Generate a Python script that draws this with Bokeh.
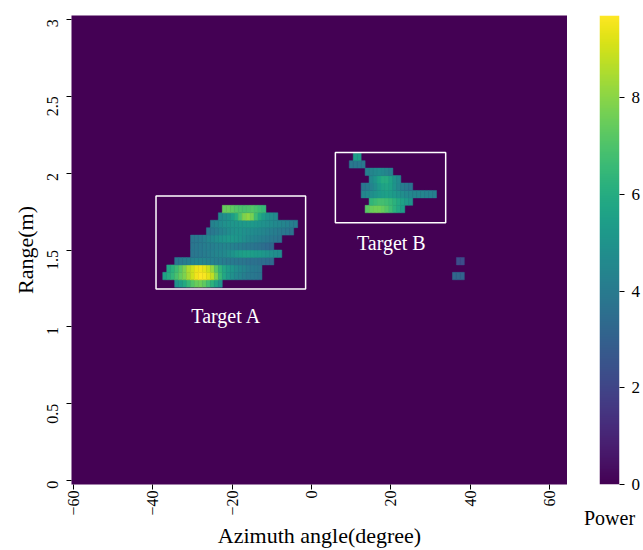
import math

import numpy as np
from bokeh.core.properties import value
from bokeh.embed import file_html
from bokeh.layouts import row
from bokeh.models import ColumnDataSource, FixedTicker, LinearColorMapper, Range1d
from bokeh.palettes import Viridis256
from bokeh.plotting import figure
from bokeh.resources import INLINE

# Range bins: 63 bins covering 0-3 m
RANGE_STEP = 3 / 62
N_RANGE_BINS = 63

azimuth_ticks = [-60, -40, -20, 0, 20, 40, 60]
range_ticks = [0, 0.5, 1, 1.5, 2, 2.5, 3]
range_tick_labels = ["0", "0.5", "1", "1.5", "2", "2.5", "3"]
power_ticks = [0, 2, 4, 6, 8]
power_max = 9.7

# Target A: range-bin index, first azimuth bin (deg), power along azimuth (1 deg bins)
target_a_bins = [26, 27, 28, 29, 30, 31, 32, 33, 34, 35, 36]
target_a_first_az = [-34, -37, -36, -34, -30, -30, -30, -26, -25, -23, -22]
target_a_power = [
    [5.0, 5.4, 5.9, 6.5, 7.1, 7.5, 7.6, 7.3, 6.8, 6.2, 5.6, 5.0],
    [5.6, 6.0, 6.4, 6.9, 7.4, 7.8, 8.4, 9.0, 9.5, 9.7, 9.6, 9.3, 8.8, 7.8, 6.6, 5.8,
     5.3, 4.9, 4.6, 4.4, 4.2, 4.0, 3.9, 3.8, 3.7],
    [5.8, 6.2, 6.7, 7.2, 7.8, 8.5, 9.0, 9.4, 9.5, 9.3, 8.9, 8.2, 7.2, 6.4, 5.8, 5.4,
     5.1, 4.8, 4.6, 4.4, 4.2, 4.0, 3.9, 3.8],
    [3.9, 4.0, 4.1, 4.2, 4.3, 4.4, 4.4, 4.4, 4.3, 4.3, 4.2, 4.2, 4.1, 4.0, 4.0, 3.9,
     3.8, 3.8, 3.7, 3.6, 3.6, 3.5, 3.5, 3.4, 3.4],
    [3.8, 3.9, 4.0, 4.1, 4.2, 4.3, 4.4, 4.5, 4.6, 4.8, 5.0, 5.2, 5.4, 5.5, 5.5, 5.4,
     5.3, 5.2, 5.1, 5.0, 4.9, 4.8, 4.7],
    [3.8, 3.9, 4.0, 4.1, 4.2, 4.2, 4.3, 4.3, 4.4, 4.4, 4.3, 4.2, 4.1, 4.0, 3.9, 3.8,
     3.7, 3.6, 3.5, 3.4, 3.3],
    [3.8, 3.9, 4.0, 4.2, 4.4, 4.6, 4.8, 5.0, 5.1, 5.2, 5.2, 5.1, 5.0, 4.8, 4.6, 4.4,
     4.3, 4.2, 4.1, 4.0, 3.9, 3.8, 3.7],
    [3.8, 3.9, 4.1, 4.3, 4.5, 4.7, 4.9, 5.0, 5.0, 4.9, 4.8, 4.7, 4.6, 4.5, 4.4, 4.3,
     4.2, 4.1, 4.0, 3.9, 3.8, 3.7],
    [4.3, 4.5, 4.7, 4.9, 5.0, 5.1, 5.1, 5.2, 5.2, 5.3, 5.2, 5.1, 5.0, 4.9, 4.8, 4.7,
     4.6, 4.5, 4.4, 4.3, 4.2, 4.1],
    [4.6, 4.8, 5.0, 5.4, 6.0, 7.0, 7.8, 8.1, 7.7, 6.7, 5.9, 5.4, 5.0, 4.8, 4.6],
    [7.4, 7.5, 7.3, 7.1, 7.0, 6.9, 7.0, 7.1, 6.9, 6.7, 6.5],
]

# Target B
target_b_bins = [36, 37, 38, 39, 40, 41, 42, 43]
target_b_first_az = [14, 15, 13, 13, 15, 14, 10, 11]
target_b_power = [
    [7.2, 7.5, 7.6, 7.6, 7.4, 7.1, 6.7, 6.2, 5.8, 5.4],
    [6.4, 6.6, 6.8, 6.8, 6.7, 6.5, 6.2, 5.9, 5.6, 5.3, 5.0],
    [4.4, 4.6, 4.8, 5.0, 5.2, 5.4, 5.5, 5.4, 5.2, 5.0, 4.8, 4.6, 4.5, 4.4, 4.4, 4.4,
     4.3, 4.3, 4.2],
    [3.8, 4.0, 4.3, 4.7, 5.2, 5.6, 5.7, 5.5, 5.0, 4.5, 4.1, 3.9, 3.7],
    [4.6, 5.0, 5.6, 6.0, 6.0, 5.6, 5.0, 4.6],
    [4.2, 4.4, 4.6, 4.7, 4.6, 4.4, 4.2],
    [3.9, 3.9, 3.9, 3.9],
    [5.4, 5.4],
]

# Weak isolated returns
clutter_bins = [27, 29]
clutter_first_az = [36, 37]
clutter_power = [[3.2, 3.2, 3.1], [2.3, 2.3]]

# Target boxes and their captions
box_left = [-39.2, 6.0]
box_right = [-1.5, 33.8]
box_bottom = [1.247, 1.677]
box_top = [1.851, 2.134]
caption_x = [-21.5, 20.1]
caption_y = [1.07, 1.545]
caption_text = ["Target A", "Target B"]


def cells(bins, first_az, power):
    xs, ys, vs = [], [], []
    for b, a0, vals in zip(bins, first_az, power):
        for i, v in enumerate(vals):
            xs.append(a0 + i)
            ys.append((b + 0.5) * RANGE_STEP)
            vs.append(v)
    return xs, ys, vs


cx, cy, cv = [], [], []
for grp in [(target_a_bins, target_a_first_az, target_a_power),
            (target_b_bins, target_b_first_az, target_b_power),
            (clutter_bins, clutter_first_az, clutter_power)]:
    x, y, v = cells(*grp)
    cx += x
    cy += y
    cv += v

source = ColumnDataSource(dict(azimuth=cx, rng=cy, power=cv))
mapper = LinearColorMapper(palette=Viridis256, low=0, high=power_max)

SERIF = "Liberation Serif"

# ---- heat map ----
p = figure(
    width=567, height=550,
    x_range=Range1d(-60.5, 64.5),
    y_range=Range1d(-0.5 * RANGE_STEP, (N_RANGE_BINS - 0.5) * RANGE_STEP),
    output_backend="svg", toolbar_location=None,
    min_border_left=71, min_border_top=15, min_border_bottom=66, min_border_right=0,
)
p.background_fill_color = Viridis256[0]
p.outline_line_color = None
p.grid.visible = False

p.rect(x="azimuth", y="rng", width=1, height=RANGE_STEP, source=source,
       fill_color={"field": "power", "transform": mapper},
       line_color={"field": "power", "transform": mapper}, line_width=0.5)

p.quad(left=box_left, right=box_right, bottom=box_bottom, top=box_top,
       fill_color=None, line_color="white", line_width=1.5)

p.text(x=caption_x, y=caption_y, text=caption_text, text_color="white",
       text_font=value(SERIF), text_font_size="20px",
       text_align="center", text_baseline="middle")

p.xaxis.ticker = FixedTicker(ticks=azimuth_ticks)
p.xaxis.major_label_overrides = {t: str(t).replace("-", "\u2212") for t in azimuth_ticks}
p.xaxis.major_label_orientation = math.pi / 2
p.yaxis.ticker = FixedTicker(ticks=range_ticks)
p.yaxis.major_label_overrides = dict(zip(range_ticks, range_tick_labels))
p.yaxis.major_label_orientation = math.pi / 2
p.xaxis.axis_label = "Azimuth angle(degree)"
p.yaxis.axis_label = "Range(m)"
for ax in (p.xaxis, p.yaxis):
    ax.axis_line_color = None
    ax.minor_tick_line_color = None
    ax.major_tick_in = 0
    ax.major_tick_out = 5
    ax.major_tick_line_color = "black"
    ax.major_label_text_font = SERIF
    ax.major_label_text_font_size = "16px"
    ax.major_label_text_color = "black"
    ax.axis_label_text_font = SERIF
    ax.axis_label_text_font_size = "22px"
    ax.axis_label_text_font_style = "normal"
    ax.axis_label_text_color = "black"
p.xaxis.major_label_standoff = 1
p.xaxis.axis_label_standoff = 4
p.yaxis.major_label_standoff = 14
p.yaxis.axis_label_standoff = 1

# ---- colour scale ----
cb = figure(
    width=76, height=550,
    x_range=Range1d(0, 1), y_range=Range1d(0, power_max),
    y_axis_location="right",
    output_backend="svg", toolbar_location=None,
    min_border_left=32, min_border_right=21, min_border_top=15, min_border_bottom=66,
)
cb.outline_line_color = None
cb.grid.visible = False
gradient = np.linspace(0, power_max, 256).reshape(-1, 1)
cb.image(image=[gradient], x=0, y=0, dw=1, dh=power_max, color_mapper=mapper)

cb.yaxis.ticker = FixedTicker(ticks=power_ticks)
cb.yaxis.axis_line_color = None
cb.yaxis.minor_tick_line_color = None
cb.yaxis.major_tick_in = 0
cb.yaxis.major_tick_out = 5
cb.yaxis.major_tick_line_color = "black"
cb.yaxis.major_label_standoff = 7
cb.yaxis.major_label_text_font = SERIF
cb.yaxis.major_label_text_font_size = "17px"
cb.yaxis.major_label_text_color = "black"

cb.xaxis.ticker = FixedTicker(ticks=[])
cb.xaxis.axis_line_color = None
cb.xaxis.major_tick_out = 0
cb.xaxis.minor_tick_line_color = None
cb.xaxis.axis_label = "Power"
cb.xaxis.axis_label_text_font = SERIF
cb.xaxis.axis_label_text_font_size = "20px"
cb.xaxis.axis_label_text_font_style = "normal"
cb.xaxis.axis_label_text_color = "black"
cb.xaxis.axis_label_standoff = 22

layout = row(p, cb)
open("out.html", "w").write(file_html(layout, INLINE))
